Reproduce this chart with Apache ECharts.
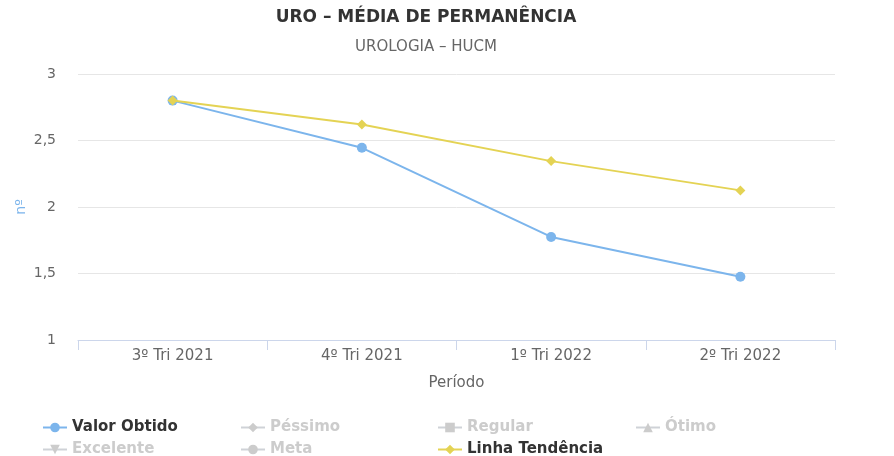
<!DOCTYPE html>
<html>
<head>
<meta charset="utf-8">
<script src="https://cdn.jsdelivr.net/npm/echarts@6/dist/echarts.min.js"></script>
<style>
html,body{margin:0;padding:0;background:#fff;}
#chart{width:894px;height:456px;}
</style>
</head>
<body>
<div id="chart"></div>
<script>
const categories = ['3º Tri 2021', '4º Tri 2021', '1º Tri 2022', '2º Tri 2022'];
const valorObtido = [2.8, 2.445, 1.775, 1.475];
const linhaTendencia = [2.8, 2.62, 2.345, 2.125];
const yTicks = [1, 1.5, 2, 2.5, 3];
const legendNames = ['Valor Obtido', 'Péssimo', 'Regular', 'Ótimo', 'Excelente', 'Meta', 'Linha Tendência'];

const FONT = '"DejaVu Sans", sans-serif';
const chart = echarts.init(document.getElementById('chart'));

function emptySeries(name, symbol) {
  return {name: name, type: 'line', data: [], symbol: symbol, symbolSize: 9,
          itemStyle: {color: '#cccccc'}, lineStyle: {color: '#cccccc', width: 2}};
}

const hidden = {'Péssimo': false, 'Regular': false, 'Ótimo': false, 'Excelente': false, 'Meta': false};
const colX = [37, 235, 432, 630];
const rowY = [415, 437];
const legends = legendNames.map((n, i) => ({
  left: colX[i % 4], top: rowY[Math.floor(i / 4)],
  itemWidth: 24, itemHeight: 12, itemGap: 6,
  inactiveColor: '#cccccc',
  textStyle: {fontFamily: FONT, fontSize: 15, fontWeight: 'bold', color: '#333333'},
  data: [n], selected: hidden
}));

chart.setOption({
  animation: false,
  backgroundColor: '#ffffff',
  title: [
    {text: 'URO – MÉDIA DE PERMANÊNCIA', left: 421, top: 4, textAlign: 'center',
     textStyle: {fontFamily: FONT, fontSize: 17, fontWeight: 'bold', color: '#333333'}},
    {text: 'UROLOGIA – HUCM', left: 421, top: 35, textAlign: 'center',
     textStyle: {fontFamily: FONT, fontSize: 15, fontWeight: 'normal', color: '#666666'}}
  ],
  grid: {left: 78, right: 59, top: 74, bottom: 116, containLabel: false},
  legend: legends,
  xAxis: {
    type: 'category', data: categories, boundaryGap: true,
    name: 'Período', nameLocation: 'middle', nameGap: 36,
    nameTextStyle: {fontFamily: FONT, fontSize: 15, color: '#666666'},
    axisLine: {lineStyle: {color: '#ccd6eb', width: 1}},
    axisTick: {show: true, alignWithLabel: false, length: 10, lineStyle: {color: '#ccd6eb'}},
    axisLabel: {fontFamily: FONT, fontSize: 15, color: '#666666', margin: 9}
  },
  yAxis: {
    type: 'value', min: yTicks[0], max: yTicks[yTicks.length - 1], interval: 0.5,
    name: 'nº', nameLocation: 'middle', nameGap: 50, nameRotate: 90, nameMoveOverlap: false,
    nameTextStyle: {fontFamily: FONT, fontSize: 14, color: '#7cb5ec'},
    axisLine: {show: false}, axisTick: {show: false},
    splitLine: {lineStyle: {color: '#e6e6e6', width: 1}},
    axisLabel: {fontFamily: FONT, fontSize: 14, color: '#666666', margin: 22,
      formatter: v => String(v).replace('.', ',')}
  },
  series: [
    {name: 'Valor Obtido', type: 'line', data: valorObtido, symbol: 'circle', symbolSize: 10,
     itemStyle: {color: '#7cb5ec'}, lineStyle: {color: '#7cb5ec', width: 2}, z: 2},
    emptySeries('Péssimo', 'diamond'),
    emptySeries('Regular', 'rect'),
    emptySeries('Ótimo', 'triangle'),
    emptySeries('Excelente', 'path://M0,0 L10,0 L5,10 Z'),
    emptySeries('Meta', 'circle'),
    {name: 'Linha Tendência', type: 'line', data: linhaTendencia, symbol: 'diamond', symbolSize: 10,
     itemStyle: {color: '#e4d354'}, lineStyle: {color: '#e4d354', width: 2}, z: 3}
  ]
});
</script>
</body>
</html>
